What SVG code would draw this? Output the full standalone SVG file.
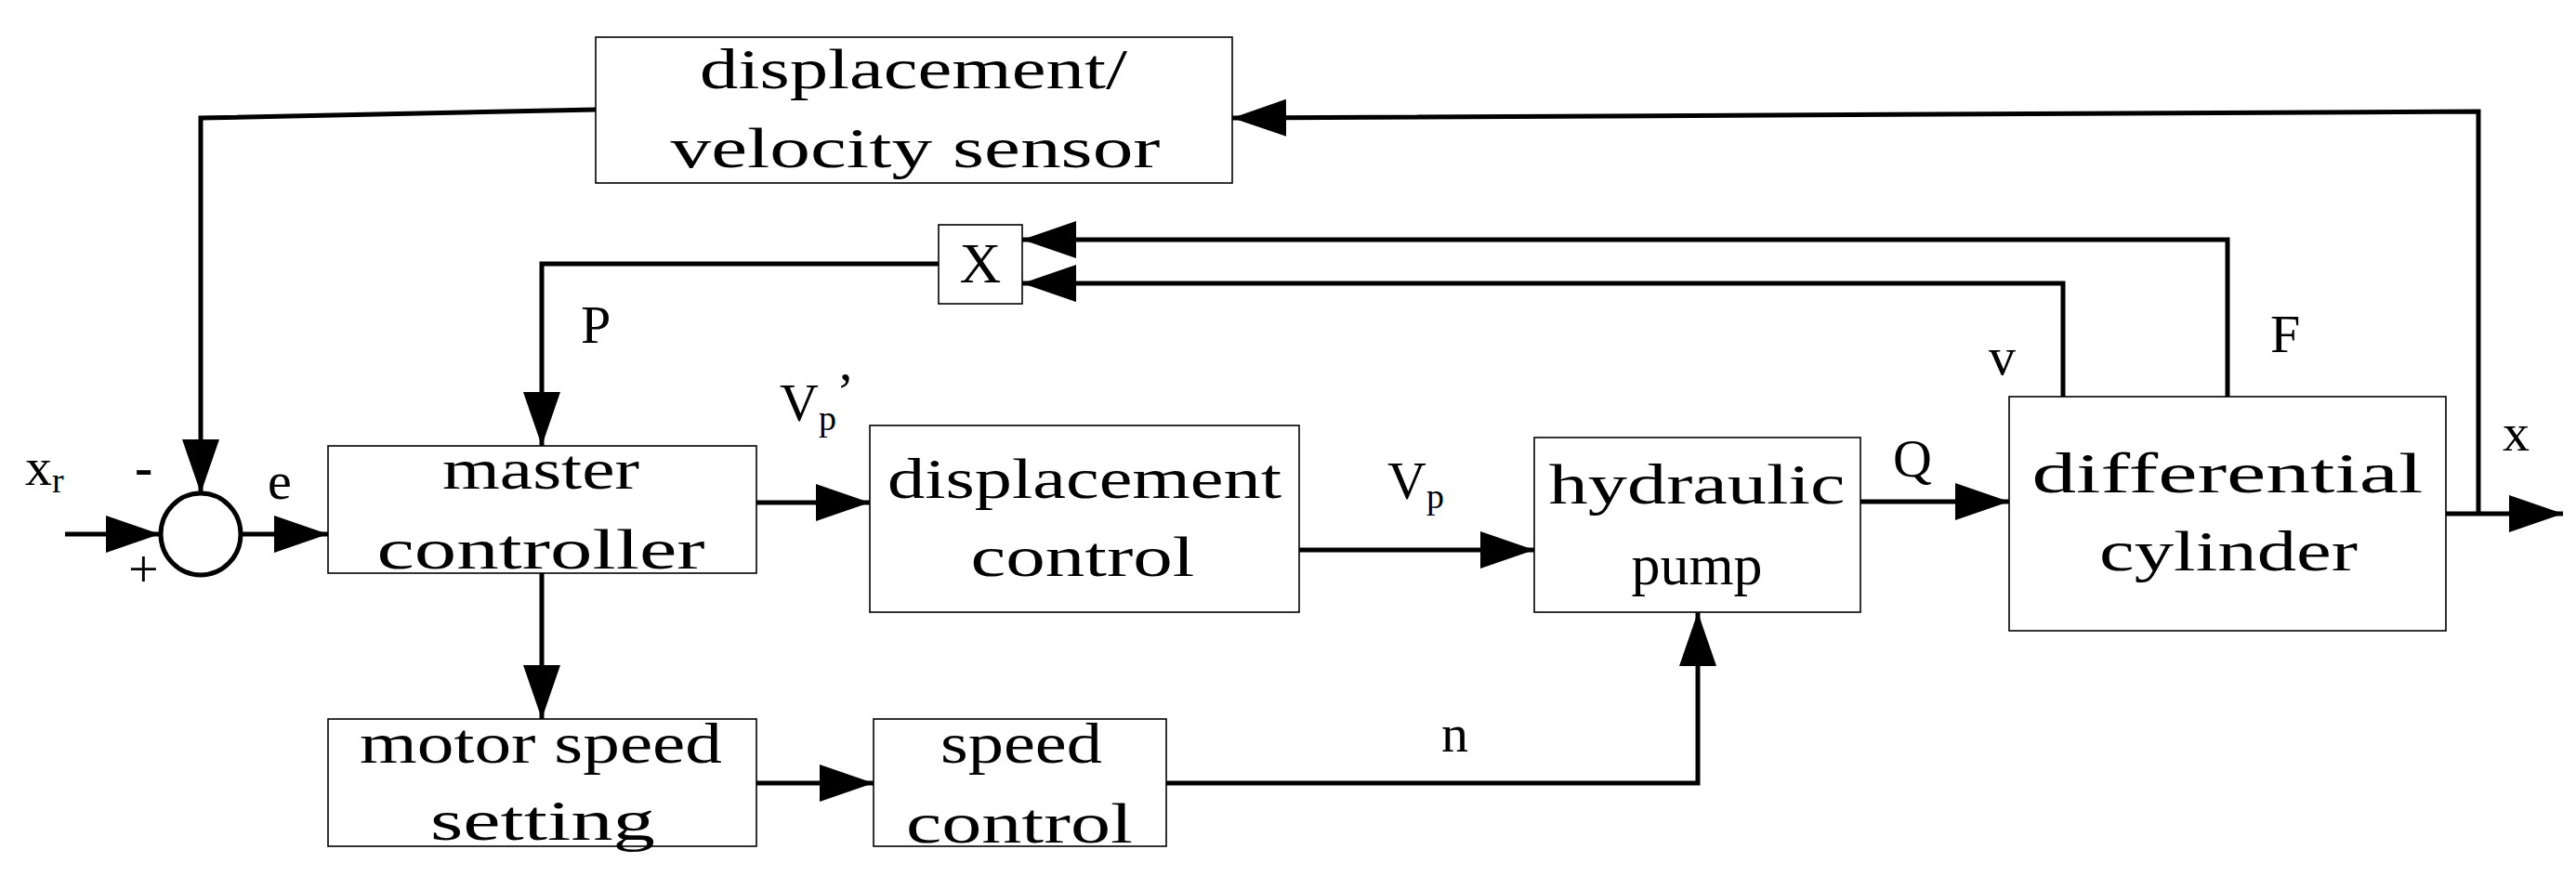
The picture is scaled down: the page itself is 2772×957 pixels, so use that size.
<svg xmlns="http://www.w3.org/2000/svg" width="2772" height="957" viewBox="0 0 2772 957">
<style>
.box{fill:#fff;stroke:#000;stroke-width:1.6}
.t{font-family:"Liberation Serif",serif;font-size:62px;fill:#000;text-anchor:middle}
.l{font-family:"Liberation Serif",serif;font-size:58px;fill:#000}
.c{fill:none;stroke:#000;stroke-width:5}
</style>
<defs>
<marker id="a" markerUnits="userSpaceOnUse" markerWidth="60" markerHeight="42" refX="58" refY="20" orient="auto"><path d="M0,0 L58,20 L0,40 z" fill="#000"/></marker>
</defs>
<rect width="2772" height="957" fill="#fff"/>
<g id="connectors">
<polyline class="c" points="641,118 216,127 216,531" marker-end="url(#a)"/>
<line class="c" x1="70" y1="575" x2="172" y2="575" marker-end="url(#a)"/>
<line class="c" x1="259" y1="575" x2="353" y2="575" marker-end="url(#a)"/>
<polyline class="c" points="1010,284 583,284 583,480" marker-end="url(#a)"/>
<line class="c" x1="814" y1="541" x2="936" y2="541" marker-end="url(#a)"/>
<line class="c" x1="583" y1="617" x2="583" y2="774" marker-end="url(#a)"/>
<line class="c" x1="814" y1="843" x2="940" y2="843" marker-end="url(#a)"/>
<polyline class="c" points="1255,843 1827,843 1827,659" marker-end="url(#a)"/>
<line class="c" x1="1398" y1="592" x2="1651" y2="592" marker-end="url(#a)"/>
<line class="c" x1="2002" y1="540" x2="2162" y2="540" marker-end="url(#a)"/>
<line class="c" x1="2632" y1="553" x2="2758" y2="553" marker-end="url(#a)"/>
<polyline class="c" points="2667,553 2667,120 1326,127" marker-end="url(#a)"/>
<polyline class="c" points="2397,427 2397,258 1100,258" marker-end="url(#a)"/>
<polyline class="c" points="2220,427 2220,305 1100,305" marker-end="url(#a)"/>
</g>
<g id="sum"><ellipse cx="216" cy="575" rx="43" ry="44" fill="#fff" stroke="#000" stroke-width="5"/></g>
<g id="sensor"><rect class="box" x="641" y="40" width="685" height="157"/>
<text class="t" x="983" y="95" textLength="460" lengthAdjust="spacingAndGlyphs">displacement/</text>
<text class="t" x="985" y="180" textLength="527" lengthAdjust="spacingAndGlyphs">velocity sensor</text></g>
<g id="mult"><rect class="box" x="1010" y="242" width="90" height="85"/>
<text class="t" x="1055" y="304" font-size="46">X</text></g>
<g id="master"><rect class="box" x="353" y="480" width="461" height="137"/>
<text class="t" x="582" y="526" textLength="212" lengthAdjust="spacingAndGlyphs">master</text>
<text class="t" x="582" y="612" textLength="353" lengthAdjust="spacingAndGlyphs">controller</text></g>
<g id="dispctrl"><rect class="box" x="936" y="458" width="462" height="201"/>
<text class="t" x="1167" y="536" textLength="424" lengthAdjust="spacingAndGlyphs">displacement</text>
<text class="t" x="1165" y="620" textLength="241" lengthAdjust="spacingAndGlyphs">control</text></g>
<g id="motor"><rect class="box" x="353" y="774" width="461" height="137"/>
<text class="t" x="582" y="821" textLength="390" lengthAdjust="spacingAndGlyphs">motor speed</text>
<text class="t" x="584" y="904" textLength="242" lengthAdjust="spacingAndGlyphs">setting</text></g>
<g id="speedctrl"><rect class="box" x="940" y="774" width="315" height="137"/>
<text class="t" x="1099" y="821" textLength="174" lengthAdjust="spacingAndGlyphs">speed</text>
<text class="t" x="1097" y="907" textLength="244" lengthAdjust="spacingAndGlyphs">control</text></g>
<g id="pump"><rect class="box" x="1651" y="471" width="351" height="188"/>
<text class="t" x="1826" y="542" textLength="319" lengthAdjust="spacingAndGlyphs">hydraulic</text>
<text class="t" x="1826" y="629" textLength="141" lengthAdjust="spacingAndGlyphs">pump</text></g>
<g id="cylinder"><rect class="box" x="2162" y="427" width="470" height="252"/>
<text class="t" x="2397" y="530" textLength="421" lengthAdjust="spacingAndGlyphs">differential</text>
<text class="t" x="2398" y="614" textLength="278" lengthAdjust="spacingAndGlyphs">cylinder</text></g>
<g id="labels">
<text class="l" x="27" y="522">x<tspan font-size="38" dy="8">r</tspan></text>
<text class="l" x="145" y="522" font-weight="bold">-</text>
<text class="l" x="138" y="632" font-size="50">+</text>
<text class="l" x="288" y="537">e</text>
<text class="l" x="625" y="369">P</text>
<text class="l" x="839" y="453">V<tspan font-size="38" dy="10">p</tspan><tspan dy="-22">’</tspan></text>
<text class="l" x="1493" y="537">V<tspan font-size="38" dy="10">p</tspan></text>
<text class="l" x="2037" y="513">Q</text>
<text class="l" x="2140" y="403" font-size="48">v</text>
<text class="l" x="2443" y="379">F</text>
<text class="l" x="2693" y="485" font-size="50">x</text>
<text class="l" x="1551" y="809">n</text>
</g>
</svg>
